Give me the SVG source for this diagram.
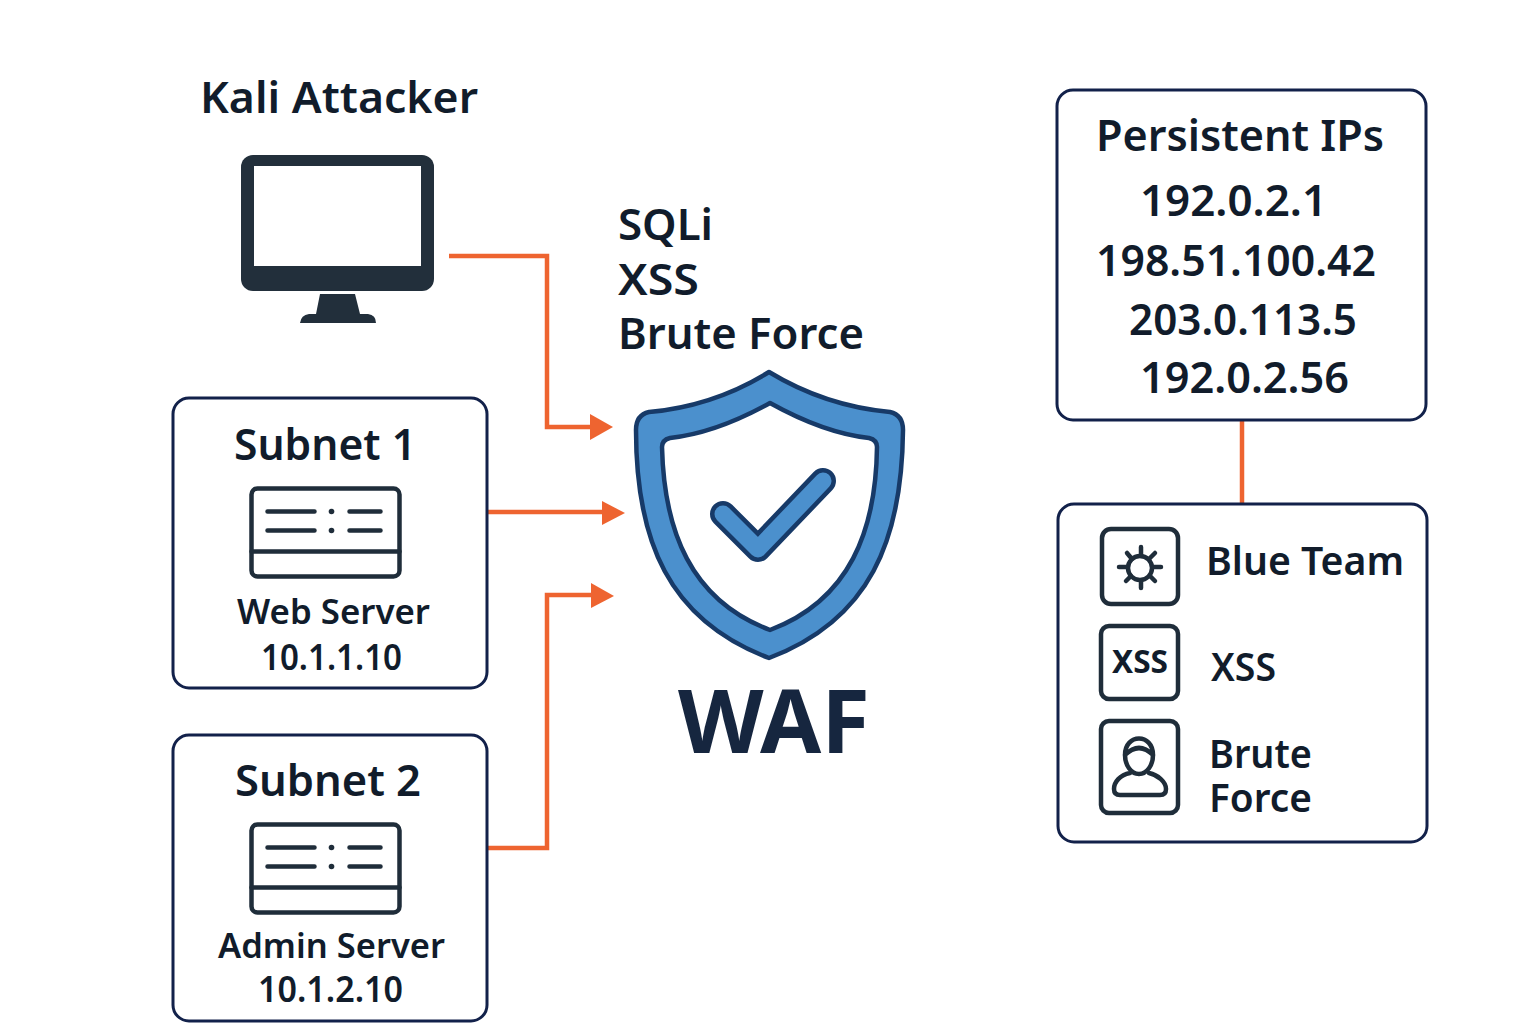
<svg xmlns="http://www.w3.org/2000/svg" width="1536" height="1024" viewBox="0 0 1536 1024">
<style>
text{font-family:"Noto Sans","Open Sans","Liberation Sans",sans-serif;font-weight:600;fill:#111c2b}
.box{fill:#fff;stroke:#12214a;stroke-width:3}
.ic{fill:none;stroke:#1f2d3a;stroke-width:4.5;stroke-linecap:round;stroke-linejoin:round}
.tile{fill:#fff;stroke:#1f2d3a;stroke-width:4.5}
.wire{fill:none;stroke:#ee6430;stroke-width:4.5}
.h{fill:#ee6430}
</style>
<defs>
<g id="srv">
<rect x="3" y="3" width="148" height="88" rx="6" class="ic"/>
<path class="ic" d="M3 66H151M19 26H66M19 45H66M101 26H132M101 45H132"/>
<circle cx="83" cy="26" r="2.800" fill="#1f2d3a"/><circle cx="83" cy="45" r="2.800" fill="#1f2d3a"/>
</g>
</defs>
<g id="connectors">
<path class="wire" d="M449 256H547V427H592"/><path class="h" d="M590 414L613 427L590 440Z"/>
<path class="wire" d="M488 512H604"/><path class="h" d="M602 501L625 513L602 525Z"/>
<path class="wire" d="M488 848H547V595H592"/><path class="h" d="M591 583L614 596L591 608Z"/>
<path class="wire" d="M1242 420V504"/>
</g>
<g id="kali">
<text x="200" y="113" font-size="44" textLength="278" lengthAdjust="spacingAndGlyphs">Kali Attacker</text>
<rect x="241" y="155" width="193" height="136" rx="12" fill="#222f3b"/>
<rect x="254" y="166" width="167" height="100" fill="#fff"/>
<path fill="#222f3b" d="M320 294H355L360 314H368Q376 315 376 323H300Q301 315 309 314H316Z"/>
</g>
<g id="attacks">
<text x="618" y="240" font-size="44" textLength="95" lengthAdjust="spacingAndGlyphs">SQLi</text>
<text x="618" y="295" font-size="44" textLength="81" lengthAdjust="spacingAndGlyphs">XSS</text>
<text x="618" y="349" font-size="44" textLength="246" lengthAdjust="spacingAndGlyphs">Brute Force</text>
</g>
<g id="subnet1">
<rect class="box" x="173" y="398" width="314" height="290" rx="16"/>
<text x="234" y="460" font-size="44" textLength="182" lengthAdjust="spacingAndGlyphs">Subnet 1</text>
<use href="#srv" x="248.500" y="485.500"/>
<text x="237" y="624" font-size="35" textLength="193" lengthAdjust="spacingAndGlyphs">Web Server</text>
<text x="261" y="670" font-size="36" textLength="141" lengthAdjust="spacingAndGlyphs">10.1.1.10</text>
</g>
<g id="subnet2">
<rect class="box" x="173" y="735" width="314" height="286" rx="16"/>
<text x="235" y="796" font-size="44" textLength="186" lengthAdjust="spacingAndGlyphs">Subnet 2</text>
<use href="#srv" x="248.500" y="821.500"/>
<text x="218" y="958" font-size="35" textLength="227" lengthAdjust="spacingAndGlyphs">Admin Server</text>
<text x="258" y="1002" font-size="36" textLength="145" lengthAdjust="spacingAndGlyphs">10.1.2.10</text>
</g>
<g id="waf">
<path fill="#4b90cd" stroke="#173a68" stroke-width="4.5" stroke-linejoin="round" fill-rule="evenodd" d="M769 372Q825 406 890 412Q903 415 903 430C902 540 870 620 769 658C668 620 636 540 636 430Q636 415 649 412Q714 406 769 372ZM770 403Q716 433 670 438Q662 440 662 447C664 530 690 600 770 630C850 600 876 530 877 447Q877 440 869 438Q824 433 770 403Z"/>
<path fill="none" stroke="#173a68" stroke-width="26" stroke-linecap="round" stroke-linejoin="round" d="M723 514L758 549L823 481"/>
<path fill="none" stroke="#4b90cd" stroke-width="17" stroke-linecap="round" stroke-linejoin="round" d="M723 514L758 549L823 481"/>
<text x="678" y="753" font-size="88" textLength="192" lengthAdjust="spacingAndGlyphs" style="font-weight:700;fill:#16263f">WAF</text>
</g>
<g id="persistent">
<rect class="box" x="1057" y="90" width="369" height="330" rx="16"/>
<text x="1096" y="151" font-size="44" textLength="288" lengthAdjust="spacingAndGlyphs">Persistent IPs</text>
<text x="1140" y="216" font-size="44" textLength="187" lengthAdjust="spacingAndGlyphs">192.0.2.1</text>
<text x="1096" y="276" font-size="44" textLength="280" lengthAdjust="spacingAndGlyphs">198.51.100.42</text>
<text x="1129" y="335" font-size="44" textLength="228" lengthAdjust="spacingAndGlyphs">203.0.113.5</text>
<text x="1140" y="393" font-size="44" textLength="209" lengthAdjust="spacingAndGlyphs">192.0.2.56</text>
</g>
<g id="blueteam">
<rect class="box" x="1058" y="504" width="369" height="338" rx="16"/>
<rect class="tile" x="1102" y="529" width="76" height="75" rx="9"/>
<circle class="ic" cx="1140" cy="568" r="12"/>
<path class="ic" d="M1141 547V556M1141 581V588M1119 567H1127M1153 567H1161M1127 553L1132 559M1155 553L1149 559M1126 581L1131 576M1155 581L1150 576"/>
<text x="1206" y="575" font-size="39" textLength="198" lengthAdjust="spacingAndGlyphs">Blue Team</text>
<rect class="tile" x="1101" y="626" width="77" height="73" rx="8"/>
<text x="1112" y="673" font-size="32" textLength="56" lengthAdjust="spacingAndGlyphs" style="font-weight:700">XSS</text>
<text x="1211" y="681" font-size="39" textLength="65" lengthAdjust="spacingAndGlyphs">XSS</text>
<rect class="tile" x="1101" y="721" width="77" height="92" rx="8"/>
<path class="ic" d="M1125 755C1125 733 1153 733 1153 755C1153 765 1147 774 1139 774C1131 774 1125 765 1125 755ZM1125 755Q1139 741 1153 755M1130 773C1120 775 1114 782 1114 789Q1114 795 1120 795H1160Q1166 795 1166 789C1166 782 1158 775 1149 773"/>
<text x="1209" y="768" font-size="39" textLength="103" lengthAdjust="spacingAndGlyphs">Brute</text>
<text x="1209" y="812" font-size="39" textLength="103" lengthAdjust="spacingAndGlyphs">Force</text>
</g>
</svg>
